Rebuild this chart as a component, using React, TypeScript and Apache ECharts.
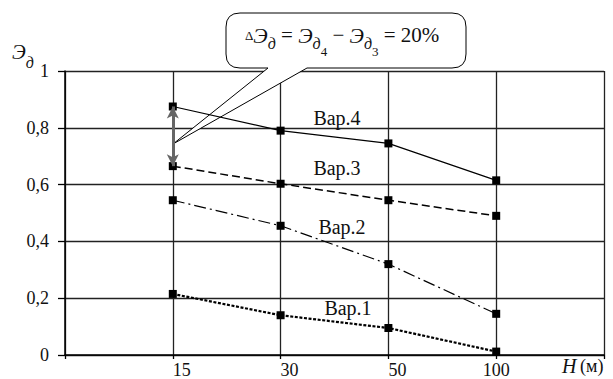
import React, { useEffect, useRef } from 'react';
import * as echarts from 'echarts';

// ---- data ----
const H_CATEGORIES = ['', '15', '30', '50', '100', ' '];
const H_VALUES = ['15', '30', '50', '100'];
const VAR1 = [0.215, 0.14, 0.095, 0.012];
const VAR2 = [0.545, 0.455, 0.32, 0.145];
const VAR3 = [0.665, 0.603, 0.545, 0.49];
const VAR4 = [0.875, 0.79, 0.745, 0.615];
const SERIES_NAMES = ['Вар.1', 'Вар.2', 'Вар.3', 'Вар.4'];
const Y_MIN = 0;
const Y_MAX = 1;
const Y_STEP = 0.2;
const DELTA_LABEL = '20%';

const SERIF = 'Liberation Serif';

const BUBBLE_D =
  'M240 13H452Q466 13 466 27V54Q466 68 452 68H307L173 144L268 68H240Q226 68 226 54V27Q226 13 240 13Z';
let registered = false;
function ensureShapes() {
  if (registered) return;
  echarts.graphic.registerShape('callout', echarts.graphic.extendPath(BUBBLE_D, {}) as any);
  registered = true;
}

export default function App() {
  const ref = useRef<HTMLDivElement>(null);
  useEffect(() => {
    ensureShapes();
    const chart = echarts.init(ref.current!, undefined, { renderer: 'svg' });
    const pairs = (vals: number[]) => vals.map((v, i) => [H_VALUES[i], v]);
    const styles = [
      { type: [3, 1.6], width: 2.2 },
      { type: [12, 4, 2, 4], width: 1.2 },
      { type: [8, 4], width: 1.5 },
      { type: 'solid', width: 1.2 },
    ];
    const allVals = [VAR1, VAR2, VAR3, VAR4];
    const series: any[] = allVals.map((vals, k) => ({
      type: 'line',
      name: SERIES_NAMES[k],
      data: pairs(vals),
      symbol: 'rect',
      symbolSize: 8,
      z: 3,
      itemStyle: { color: '#000' },
      lineStyle: { color: '#000', width: styles[k].width, type: styles[k].type as any },
    }));
    series[3].markLine = {
      silent: true,
      symbol: ['arrow', 'arrow'],
      symbolSize: [9, 12],
      label: { show: false },
      lineStyle: { color: '#666', width: 3, type: 'solid' },
      data: [[{ coord: [H_VALUES[0], VAR4[0]] }, { coord: [H_VALUES[0], VAR3[0]] }]],
    };

    const labelPos = [
      [348, 308],
      [342, 227],
      [337, 168],
      [337, 118],
    ];

    chart.setOption({
      animation: false,
      backgroundColor: '#fff',
      textStyle: { fontFamily: SERIF },
      grid: { left: 65, right: 9, top: 71, bottom: 24 },
      xAxis: {
        type: 'category',
        boundaryGap: false,
        data: H_CATEGORIES.map((c, i) =>
          i >= 1 && i <= 3
            ? { value: c, textStyle: { align: 'left', fontFamily: SERIF, fontSize: 18 } }
            : { value: c }
        ),
        axisLine: { lineStyle: { color: '#000', width: 1.5 } },
        axisTick: { show: true, length: 4, lineStyle: { color: '#000', width: 1.3 } },
        axisLabel: { fontFamily: SERIF, fontSize: 18, color: '#111', margin: 6, interval: 0 },
        splitLine: { show: true, lineStyle: { color: '#222', width: 1.3 } },
      },
      yAxis: {
        type: 'value',
        min: Y_MIN,
        max: Y_MAX,
        interval: Y_STEP,
        axisLine: { show: true, lineStyle: { color: '#000', width: 1.5 } },
        axisTick: { show: true, length: 7, lineStyle: { color: '#000', width: 1.3 } },
        axisLabel: {
          fontFamily: SERIF,
          fontSize: 18,
          color: '#111',
          margin: 16,
          formatter: (v: number) =>
            v === 0 || v === 1 ? String(v) : v.toFixed(1).replace('.', ','),
        },
        splitLine: { show: true, lineStyle: { color: '#222', width: 1.3 } },
      },
      series,
      graphic: [
        {
          type: 'callout',
          x: 0,
          y: 0,
          z: 1,
          silent: true,
          style: { fill: '#fff', stroke: '#000', lineWidth: 1 },
        },
        {
          type: 'text',
          x: 245,
          y: 35,
          z: 4,
          style: {
            text: '{d|Δ}{e|Э}{s|д}{t| = }{e|Э}{s|д}{n|4}{t| − }{e|Э}{s|д}{n|3}{t| = ' + DELTA_LABEL + '}',
            align: 'left',
            verticalAlign: 'middle',
            fontFamily: SERIF,
            fontSize: 20,
            fill: '#111',
            rich: {
              d: { fontFamily: SERIF, fontSize: 13, fill: '#111' },
              e: { fontFamily: SERIF, fontSize: 22, fontStyle: 'italic', fill: '#111' },
              s: { fontFamily: SERIF, fontSize: 16, fontStyle: 'italic', padding: [16, 0, 0, 0], fill: '#111' },
              n: { fontFamily: SERIF, fontSize: 13, padding: [32, 0, 0, 0], fill: '#111' },
              t: { fontFamily: SERIF, fontSize: 21, fill: '#111' },
            },
          },
        },
        {
          type: 'text',
          x: 12,
          y: 52,
          z: 4,
          style: {
            text: '{e|Э}{s|д}',
            align: 'left',
            verticalAlign: 'middle',
            fontFamily: SERIF,
            rich: {
              e: { fontFamily: SERIF, fontSize: 21, fontStyle: 'italic', fill: '#111' },
              s: { fontFamily: SERIF, fontSize: 16, fontStyle: 'italic', padding: [20, 0, 0, 0], fill: '#111' },
            },
          },
        },
        {
          type: 'text',
          x: 562,
          y: 366,
          z: 4,
          style: {
            text: 'H',
            align: 'left',
            verticalAlign: 'middle',
            fontFamily: SERIF,
            fontStyle: 'italic',
            fontSize: 20,
            fill: '#111',
          },
        },
        {
          type: 'text',
          x: 580,
          y: 366,
          z: 4,
          style: {
            text: '(м)',
            align: 'left',
            verticalAlign: 'middle',
            fontFamily: SERIF,
            fontSize: 18,
            fill: '#111',
          },
        },
        ...SERIES_NAMES.map((n, k) => ({
          type: 'text',
          x: labelPos[k][0],
          y: labelPos[k][1],
          z: 4,
          style: {
            text: n,
            align: 'center',
            verticalAlign: 'middle',
            fontFamily: SERIF,
            fontSize: 20,
            fill: '#111',
          },
        })),
      ],
    });
    return () => chart.dispose();
  }, []);
  return (
    <div
      ref={ref}
      style={{ position: 'fixed', left: 0, top: 0, width: 613, height: 379, background: '#fff' }}
    />
  );
}
